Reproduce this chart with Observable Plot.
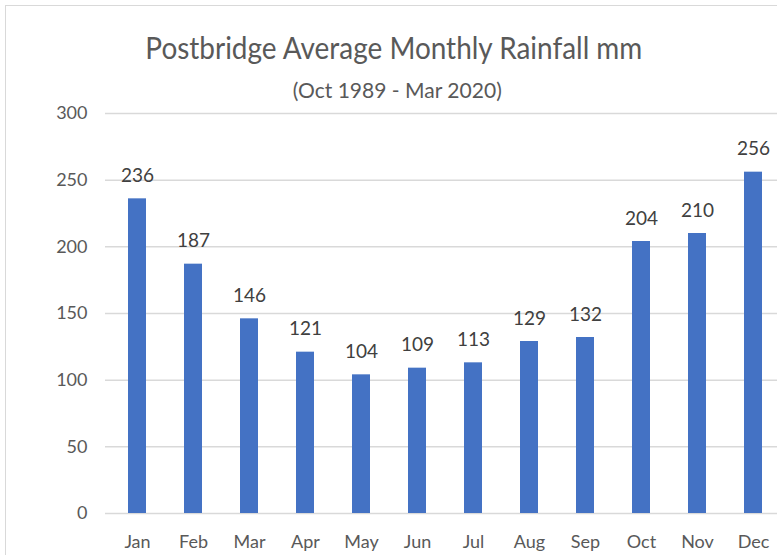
<!DOCTYPE html>
<html>
<head>
<meta charset="utf-8">
<script src="https://cdn.jsdelivr.net/npm/d3@7"></script>
<script src="https://cdn.jsdelivr.net/npm/@observablehq/plot@0.6"></script>
<style>
  html, body { margin: 0; padding: 0; background: #fff; }
  body { width: 777px; height: 555px; overflow: hidden; position: relative; font-family: Lato, sans-serif; }
  #frame { position: absolute; left: 5px; top: 5px; width: 900px; height: 700px; border: 1px solid #d9d9d9; }
  .t { position: absolute; left: 0; text-align: center; white-space: nowrap; color: #595959; line-height: 1; }
  #title { top: 32px; width: 787px; font-size: 30px; }
  #subtitle { top: 79px; width: 795px; font-size: 21px; }
  .t span { display: inline-block; transform-origin: center; }
  #chart { position: absolute; left: 0; top: 0; width: 790px; }
  #chart svg { max-width: none !important; }
</style>
</head>
<body>
<div id="frame"></div>
<div id="chart"></div>
<div class="t" id="title"><span>Postbridge Average Monthly Rainfall mm</span></div>
<div class="t" id="subtitle"><span>(Oct 1989 - Mar 2020)</span></div>
<script>
const months = ["Jan", "Feb", "Mar", "Apr", "May", "Jun", "Jul", "Aug", "Sep", "Oct", "Nov", "Dec"];
const rainfall = [236, 187, 146, 121, 104, 109, 113, 129, 132, 204, 210, 256];
const yTicks = [0, 50, 100, 150, 200, 250, 300];

const data = months.map((m, i) => ({month: m, value: rainfall[i]}));

const chart = Plot.plot({
  width: 790,
  height: 555,
  marginTop: 113,
  marginBottom: 42,
  marginLeft: 105,
  marginRight: 6,
  style: {fontFamily: "Lato, sans-serif", background: "transparent", maxWidth: "none"},
  x: {domain: months, paddingInner: 0.68, paddingOuter: 0.34},
  y: {domain: [0, 300]},
  marks: [
    Plot.ruleY(yTicks, {stroke: "#d9d9d9", strokeWidth: 1.5}),
    Plot.barY(data, {x: "month", y: "value", fill: "#4472c4"}),
    Plot.text(data, {x: "month", y: "value", text: d => String(d.value), dy: -17, lineAnchor: "bottom", fontSize: 19, fill: "#404040"}),
    Plot.axisY({ticks: yTicks, tickSize: 0, tickPadding: 18, fontSize: 18, color: "#595959", label: null}),
    Plot.axisX({tickSize: 0, tickPadding: 22, fontSize: 18, color: "#595959", label: null})
  ]
});
document.getElementById("chart").appendChild(chart);

function fit(id, target) {
  const s = document.querySelector("#" + id + " span");
  const w = s.getBoundingClientRect().width;
  s.style.transform = `scaleX(${target / w})`;
}
fit("title", 497);
fit("subtitle", 209);
</script>
</body>
</html>
